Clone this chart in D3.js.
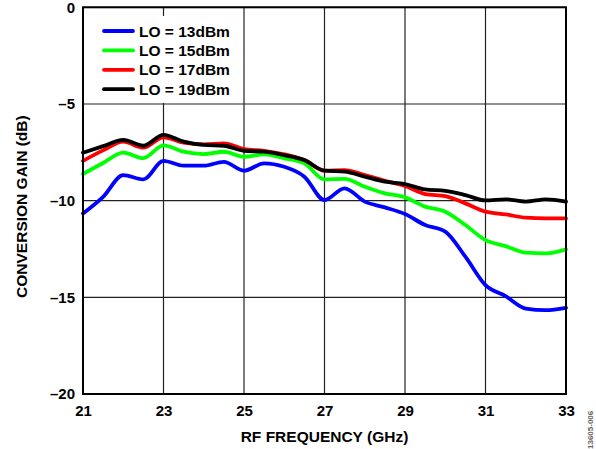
<!DOCTYPE html>
<html><head><meta charset="utf-8">
<script src="https://cdn.jsdelivr.net/npm/d3@7"></script>
<style>body{margin:0;background:#fff}svg{display:block}text{font-family:"Liberation Sans",Arial,sans-serif;font-weight:bold}</style>
</head><body><svg id="c" width="596" height="449"></svg>
<script>
const freq = [21,21.5,22,22.5,23,23.5,24,24.5,25,25.5,26,26.5,27,27.5,28,28.5,29,29.5,30,30.5,31,31.5,32,32.5,33];
const lo13 = [-10.66,-9.8,-8.68,-8.9,-7.94,-8.19,-8.19,-7.99,-8.45,-8.07,-8.25,-8.76,-9.97,-9.36,-10.05,-10.35,-10.69,-11.26,-11.6,-12.9,-14.37,-14.94,-15.58,-15.66,-15.54];
const lo15 = [-8.62,-8.05,-7.52,-7.8,-7.14,-7.47,-7.59,-7.47,-7.73,-7.61,-7.81,-8.07,-8.9,-8.87,-9.28,-9.62,-9.83,-10.31,-10.57,-11.26,-12.04,-12.35,-12.69,-12.73,-12.52];
const lo17 = [-7.94,-7.4,-6.95,-7.26,-6.73,-7.0,-7.09,-7.04,-7.33,-7.42,-7.6,-7.9,-8.45,-8.42,-8.68,-8.97,-9.24,-9.66,-9.76,-10.14,-10.57,-10.71,-10.88,-10.92,-10.92];
const lo19 = [-7.52,-7.18,-6.86,-7.16,-6.6,-6.95,-7.12,-7.16,-7.42,-7.47,-7.65,-7.9,-8.45,-8.5,-8.76,-9.02,-9.14,-9.42,-9.49,-9.71,-9.99,-9.93,-10.05,-9.93,-10.05];
const seriesNames = ["LO = 13dBm","LO = 15dBm","LO = 17dBm","LO = 19dBm"];
const seriesColors = ["#0000ff","#00ff00","#ff0000","#000000"];
const xTicks = [21,23,25,27,29,31,33];
const yTicks = [0,-5,-10,-15,-20];

const svg = d3.select("#c");
const L=83,R=566,T=7.3,B=394;
const x = d3.scaleLinear().domain([21,33]).range([L,R]);
const y = d3.scaleLinear().domain([0,-20]).range([T,B]);
const FF='"Liberation Sans",Arial,sans-serif';

// grid
svg.append("g").selectAll("line").data(xTicks).join("line")
 .attr("x1",d=>x(d)).attr("x2",d=>x(d)).attr("y1",T).attr("y2",B)
 .attr("stroke","#222").attr("stroke-width",1.2);
svg.append("g").selectAll("line").data(yTicks).join("line")
 .attr("x1",L).attr("x2",R).attr("y1",d=>y(d)).attr("y2",d=>y(d))
 .attr("stroke","#222").attr("stroke-width",1.2);

// legend background
svg.append("rect").attr("x",L+1.5).attr("y",16).attr("width",158).attr("height",87).attr("fill","#fff");

// lines
const all=[lo13,lo15,lo17,lo19];
const line=d3.line().x((d,i)=>x(freq[i])).y(d=>y(d)).curve(d3.curveMonotoneX);
svg.append("g").selectAll("path").data(all).join("path")
 .attr("d",d=>line(d)).attr("fill","none")
 .attr("stroke",(d,i)=>seriesColors[i]).attr("stroke-width",3.8)
 .attr("stroke-linejoin","round").attr("stroke-linecap","round");

// frame
svg.append("rect").attr("x",L).attr("y",T).attr("width",R-L).attr("height",B-T)
 .attr("fill","none").attr("stroke","#000").attr("stroke-width",2);

// axes
const xa=svg.append("g").attr("transform",`translate(0,${B})`)
 .call(d3.axisBottom(x).tickValues(xTicks).tickSize(0).tickPadding(11).tickFormat(d3.format("d")));
xa.select(".domain").remove();
xa.selectAll("text").attr("font-size",15).attr("fill","#000").attr("font-family",FF).attr("font-weight","bold");
const ya=svg.append("g").attr("transform",`translate(${L},0)`)
 .call(d3.axisLeft(y).tickValues(yTicks).tickSize(0).tickPadding(8).tickFormat(d=>d<0?"–"+(-d):d));
ya.select(".domain").remove();
ya.selectAll("text").attr("font-size",15).attr("fill","#000").attr("font-family",FF).attr("font-weight","bold");

// titles
svg.append("text").attr("x",(L+R)/2).attr("y",442).attr("text-anchor","middle").attr("font-size",15.5).text("RF FREQUENCY (GHz)");
svg.append("text").attr("transform",`translate(26.5,${(T+B)/2+6}) rotate(-90)`).attr("text-anchor","middle").attr("font-size",15.5).text("CONVERSION GAIN (dB)");

// legend
const lg=svg.append("g").selectAll("g").data(seriesNames).join("g")
 .attr("transform",(d,i)=>`translate(0,${31+i*19.4})`);
lg.append("line").attr("x1",104).attr("x2",133).attr("stroke",(d,i)=>seriesColors[i]).attr("stroke-width",3.8).attr("stroke-linecap","round");
lg.append("text").attr("x",139).attr("y",5.5).attr("font-size",15.5).text(d=>d);

// watermark
svg.append("text").attr("transform","translate(593,449) rotate(-90)").attr("font-size",8).attr("font-weight","normal").attr("fill","#666").text("13605-006");
</script></body></html>
